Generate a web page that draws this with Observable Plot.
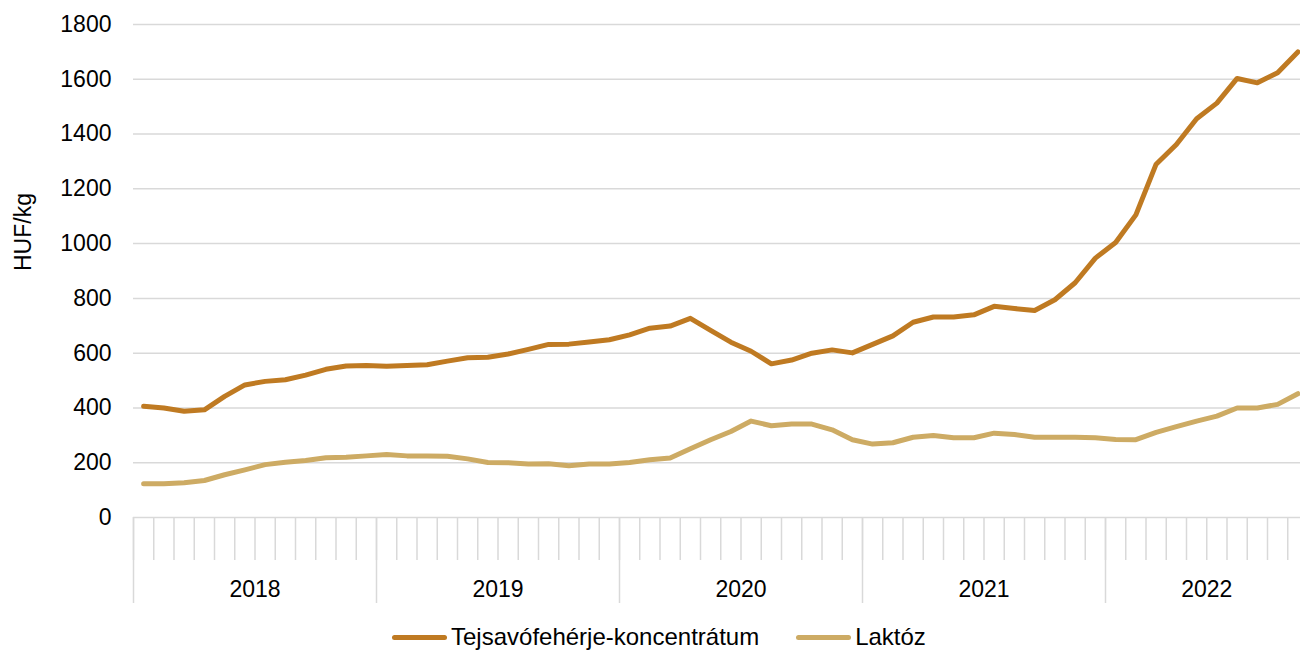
<!DOCTYPE html>
<html><head><meta charset="utf-8">
<script src="https://cdn.jsdelivr.net/npm/d3@7"></script>
<script src="https://cdn.jsdelivr.net/npm/@observablehq/plot@0.6"></script>
<style>
body{margin:0;background:#fff;font-family:"Liberation Sans",Arial,sans-serif;overflow:hidden;width:1300px;height:650px;position:relative}
#chart svg{display:block;overflow:hidden}
#legend{position:absolute;left:392px;top:624px;height:26px;display:flex;align-items:center;font-size:24px;color:#000;white-space:nowrap}
.item{display:flex;align-items:center;margin-right:37px}
.sw{display:inline-block;width:55px;height:5px;border-radius:3px;margin-right:4px}
</style></head><body>
<div id="chart"></div><div id="legend"></div>
<script>
const yearLabels = ["2018","2019","2020","2021","2022"];
const monthCounts = [12,12,12,12,10];
const seriesNames = ["Tejsavófehérje-koncentrátum","Laktóz"];
const seriesColors = ["#BF7A22","#CDAB64"];
const whey = [406,400,388,393,442,484,497,503,520,541,553,555,
  552,555,558,571,583,585,597,614,632,633,641,649,
  667,691,699,727,683,640,607,561,575,600,612,601,
  632,663,713,732,732,740,771,763,756,795,857,947,
  1004,1105,1290,1362,1456,1513,1603,1587,1624,1700];
const lactose = [123,123,127,135,156,174,193,202,208,218,220,225,
  230,225,225,224,214,201,200,195,196,189,195,195,
  201,211,217,251,284,314,352,335,341,341,320,284,
  268,273,293,299,291,291,308,303,293,293,293,291,
  285,284,311,332,352,370,400,400,413,452];
const yTicks = [0,200,400,600,800,1000,1200,1400,1600,1800];
const yLabel = "HUF/kg";

const n = whey.length;
const rows = [];
whey.forEach((v,i)=>rows.push({i, v, s: seriesNames[0]}));
lactose.forEach((v,i)=>rows.push({i, v, s: seriesNames[1]}));
const monthBounds = d3.range(n+1).map(k=>k-0.5);
let acc = 0; const yearBounds=[-0.5]; const yearCenters=[];
monthCounts.forEach(c=>{yearCenters.push(acc + c/2 - 0.5); acc+=c; yearBounds.push(acc-0.5);});
const FS = 23;
const chart = Plot.plot({
  width:1300, height:612, marginLeft:133, marginRight:0, marginTop:24, marginBottom:95,
  style:{fontFamily:"'Liberation Sans', Arial, sans-serif", fontSize:FS+"px", color:"#000", background:"#fff"},
  x:{domain:[-0.5, n-0.5], range:[133, 133 + n*20.25]},
  y:{domain:[0,1800]},
  color:{domain:seriesNames, range:seriesColors},
  marks:[
    Plot.ruleY(yTicks, {stroke:"#d9d9d9", strokeWidth:1.5}),
    Plot.axisX({ticks:monthBounds, tickSize:43, tickFormat:()=>"", stroke:"#d9d9d9", strokeWidth:1.5, label:null}),
    Plot.axisX({ticks:yearBounds, tickSize:86, tickFormat:()=>"", stroke:"#d9d9d9", strokeWidth:1.5, label:null}),
    Plot.axisX({ticks:yearCenters, tickSize:0, tickPadding:63, tickFormat:d=>yearLabels[yearCenters.indexOf(d)], fontSize:FS, fill:"#000", label:null}),
    Plot.axisY({ticks:yTicks, tickSize:0, tickPadding:22, tickFormat:d=>String(d), fontSize:FS, fill:"#000", label:null}),
    Plot.text([yLabel], {frameAnchor:"left", rotate:-90, dx:-110, fontSize:FS, fill:"#000"}),
    Plot.lineY(rows, {x:"i", y:"v", stroke:"s", z:"s", strokeWidth:5, strokeLinecap:"round", strokeLinejoin:"round"})
  ]
});
document.getElementById("chart").appendChild(chart);
const leg = document.getElementById("legend");
seriesNames.forEach((name,k)=>{
  const it = document.createElement("div"); it.className="item";
  const sw = document.createElement("span"); sw.className="sw"; sw.style.background=seriesColors[k];
  it.appendChild(sw); it.appendChild(document.createTextNode(name)); leg.appendChild(it);
});
</script>
</body></html>
